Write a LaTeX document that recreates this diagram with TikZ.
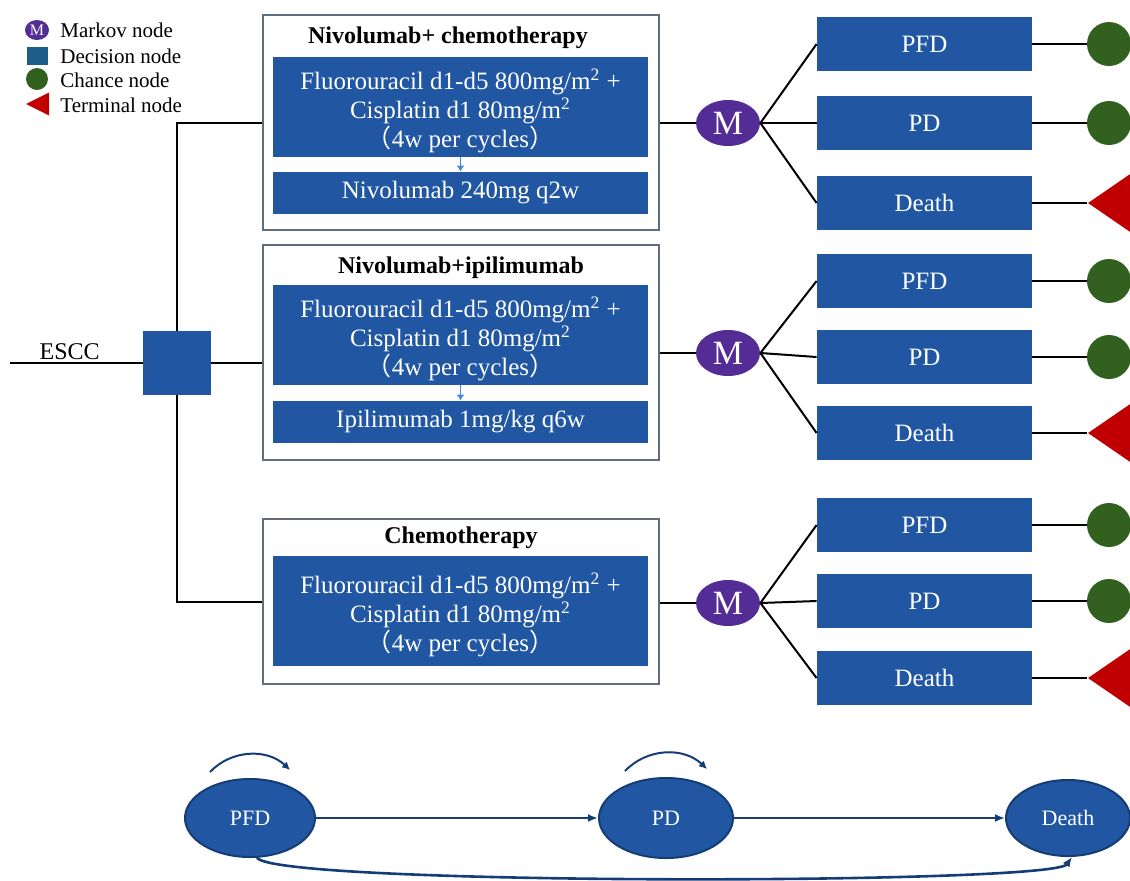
\documentclass[tikz,border=0pt]{standalone}
\usepackage{fontspec}
\setmainfont{Liberation Serif}
\newfontfamily\cjk{Noto Sans CJK SC}
\usetikzlibrary{arrows.meta,positioning,shapes.geometric}

\definecolor{boxblue}{RGB}{33,87,162}
\definecolor{legblue}{RGB}{30,92,140}
\definecolor{framegray}{RGB}{95,110,125}
\definecolor{markovpurple}{RGB}{84,44,150}
\definecolor{chancegreen}{RGB}{50,96,30}
\definecolor{termred}{RGB}{192,0,0}
\definecolor{arrowblue}{RGB}{70,140,215}
\definecolor{healthedge}{RGB}{22,60,118}

\newcommand\msq{m\smash{\textsuperscript{2}}}
\newcommand\firstline{\rule{0pt}{14pt}}

\begin{document}
\begin{tikzpicture}[
  x=0.5pt, y=-0.5pt,
  line/.style={line width=1pt, black},
  group/.style={draw=framegray, line width=0.7pt, minimum width=198pt, inner sep=0pt},
  title/.style={font=\fontsize{12}{14}\selectfont\bfseries, inner sep=0pt},
  regimen/.style={fill=boxblue, text=white, minimum width=187.5pt, align=center, inner sep=0pt, font=\fontsize{12.5}{14.5}\selectfont},
  stateb/.style={fill=boxblue, text=white, minimum width=107.5pt, minimum height=27pt, inner sep=0pt, font=\fontsize{12.5}{15}\selectfont},
  markov/.style={ellipse, fill=markovpurple, text=white, minimum width=32pt, minimum height=23pt, inner sep=0pt, font=\fontsize{17}{17}\selectfont},
  chance/.style={circle, fill=chancegreen, minimum size=22pt, inner sep=0pt},
  terminal/.style={isosceles triangle, isosceles triangle stretches, shape border rotate=180, fill=termred, minimum width=44pt, minimum height=32pt, inner sep=0pt, anchor=apex},
  decision/.style={fill=boxblue, minimum width=34pt, minimum height=32pt, inner sep=0pt},
  legtext/.style={anchor=west, inner sep=0pt, font=\fontsize{10.5}{12}\selectfont},
  thin arrow/.style={-{Latex[length=3pt,width=4pt]}, line width=0.7pt, arrowblue},
  health/.style={ellipse, fill=boxblue, draw=healthedge, line width=1pt, text=white, inner sep=0pt, font=\fontsize{11}{13}\selectfont},
  flow/.style={-{Latex[length=5pt,width=4pt]}, line width=1.3pt, healthedge},
  selfloop/.style={-{Latex[length=4pt,width=4pt]}, line width=1pt, healthedge}
]
\useasboundingbox (0,0) rectangle (1130,880);
\clip (0,0) rectangle (1130,880);

% legend
\node[markov, minimum width=12pt, minimum height=10pt, font=\fontsize{8}{8}\selectfont] (lgm) at (37,30) {M};
\node[fill=legblue, minimum width=10.5pt, minimum height=9pt, inner sep=0pt] (lgd) at (37,56) {};
\node[chance, minimum size=11pt] (lgc) at (37,79) {};
\node[terminal, minimum width=11.5pt, minimum height=11.5pt] (lgt) at (25,104) {};
\node[legtext] (lgmtext) at (60,30) {Markov node};
\node[legtext] (lgdtext) at (60,56) {Decision node};
\node[legtext] (lgctext) at (60,80) {Chance node};
\node[legtext] (lgttext) at (60,105) {Terminal node};

% strategies
\node[group, minimum height=107.5pt] (grp1) at (461,122.5) {};
\node[title] (title1) at (448,38) {Nivolumab+ chemotherapy};
\node[regimen, minimum height=50pt] (reg1) at (460.5,107) {\firstline Fluorouracil d1-d5 800mg/\msq\ +\\Cisplatin d1 80mg/\msq\\{\cjk （}4w per cycles{\cjk ）}};
\node[regimen, minimum height=21pt] (drug1) at (460.5,193) {Nivolumab 240mg q2w};
\draw[thin arrow] (reg1) -- (drug1);

\node[group, minimum height=107.5pt] (grp2) at (461,352.5) {};
\node[title] (title2) at (461,268) {Nivolumab+ipilimumab};
\node[regimen, minimum height=50pt] (reg2) at (460.5,335) {\firstline Fluorouracil d1-d5 800mg/\msq\ +\\Cisplatin d1 80mg/\msq\\{\cjk （}4w per cycles{\cjk ）}};
\node[regimen, minimum height=21pt] (drug2) at (460.5,422) {Ipilimumab 1mg/kg q6w};
\draw[thin arrow] (reg2) -- (drug2);

\node[group, minimum height=82.5pt] (grp3) at (461,601.5) {};
\node[title] (title3) at (461,538) {Chemotherapy};
\node[regimen, minimum height=55pt] (reg3) at (460.5,611) {\firstline Fluorouracil d1-d5 800mg/\msq\ +\\Cisplatin d1 80mg/\msq\\{\cjk （}4w per cycles{\cjk ）}};

% decision
\coordinate (escc) at (10,363);
\node[decision] (dec) at (177,363) {};
\draw[line] (escc) -- node[pos=0.45, above=1pt, inner sep=0pt, font=\fontsize{12}{14}\selectfont] (escclabel) {ESCC} (dec);
\draw[line] (dec.north) |- (grp1.west);
\draw[line] (dec.south) |- (grp3.west);
\draw[line] (dec) -- (dec -| grp2.west);

% markov nodes
\node[markov] (m1) at (728,123) {M};
\node[markov] (m2) at (728,353) {M};
\node[markov] (m3) at (728,603) {M};
\draw[line] (grp1.east |- m1) -- (m1);
\draw[line] (grp2.east |- m2) -- (m2);
\draw[line] (grp3.east |- m3) -- (m3);

% states
\node[stateb] (pfd1) at (924.5,44) {PFD};
\node[stateb] (pd1) at (924.5,123) {PD};
\node[stateb] (death1) at (924.5,203) {Death};
\node[stateb] (pfd2) at (924.5,281) {PFD};
\node[stateb] (pd2) at (924.5,357) {PD};
\node[stateb] (death2) at (924.5,433) {Death};
\node[stateb] (pfd3) at (924.5,525) {PFD};
\node[stateb] (pd3) at (924.5,601) {PD};
\node[stateb] (death3) at (924.5,678) {Death};

\draw[line] (m1.east) -- (pfd1.west);
\draw[line] (m1.east) -- (pd1.west);
\draw[line] (m1.east) -- (death1.west);
\draw[line] (m2.east) -- (pfd2.west);
\draw[line] (m2.east) -- (pd2.west);
\draw[line] (m2.east) -- (death2.west);
\draw[line] (m3.east) -- (pfd3.west);
\draw[line] (m3.east) -- (pd3.west);
\draw[line] (m3.east) -- (death3.west);

% chance and terminal nodes
\node[chance] (c1a) at (1109,44) {};
\node[chance] (c1b) at (1109,123) {};
\node[terminal] (t1) at (1087,203) {};
\node[chance] (c2a) at (1109,281) {};
\node[chance] (c2b) at (1109,357) {};
\node[terminal] (t2) at (1087,433) {};
\node[chance] (c3a) at (1109,525) {};
\node[chance] (c3b) at (1109,601) {};
\node[terminal] (t3) at (1087,678) {};

\draw[line] (pfd1) -- (c1a);
\draw[line] (pd1) -- (c1b);
\draw[line] (death1) -- (t1.apex);
\draw[line] (pfd2) -- (c2a);
\draw[line] (pd2) -- (c2b);
\draw[line] (death2) -- (t2.apex);
\draw[line] (pfd3) -- (c3a);
\draw[line] (pd3) -- (c3b);
\draw[line] (death3) -- (t3.apex);

% health states
\node[health, minimum width=65pt, minimum height=39pt] (pfdst) at (250,818) {PFD};
\node[health, minimum width=67pt, minimum height=40pt] (pdst) at (666,818) {PD};
\node[health, minimum width=62pt, minimum height=38pt] (deathst) at (1068,818) {Death};
\draw[flow] (pfdst) -- (pdst);
\draw[flow] (pdst) -- (deathst);
\draw[flow] (pfdst.-80) .. controls +(20,28) and +(-20,28) .. (deathst.-84);
\draw[selfloop] ([shift={(-40,-6)}]pfdst.north) to[bend left=45] ([shift={(40,-8)}]pfdst.north);
\draw[selfloop] ([shift={(-41,-6)}]pdst.north) to[bend left=45] ([shift={(41,-8)}]pdst.north);
\end{tikzpicture}
\end{document}
